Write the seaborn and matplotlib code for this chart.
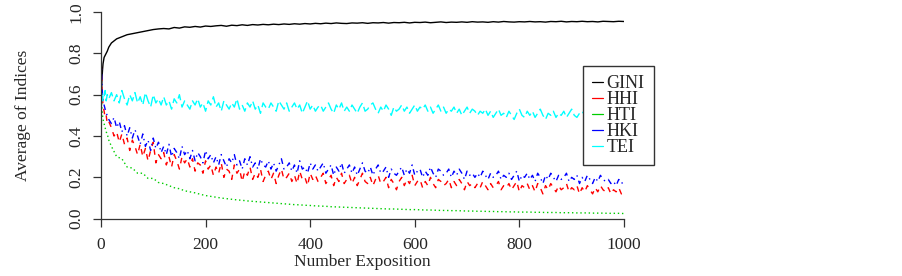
import pandas as pd
import seaborn as sns
import matplotlib
matplotlib.use("Agg")
import matplotlib.pyplot as plt

# x grids: fine steps at the start, then regular steps
x_fine = [0, 1, 2, 3, 4, 6, 8, 10, 12, 15]
x_step5 = x_fine + list(range(20, 1001, 5))
x_step10 = x_fine + list(range(20, 1001, 10))

gini = [0.46, 0.60, 0.68, 0.72, 0.75, 0.78, 0.79, 0.80, 0.81, 0.83,
        0.85, 0.87, 0.88, 0.89, 0.895, 0.90, 0.905, 0.91, 0.915, 0.918,
        0.92, 0.918, 0.925, 0.922, 0.928, 0.926, 0.93, 0.927, 0.932, 0.93,
        0.933, 0.935, 0.931, 0.936, 0.934, 0.938, 0.935, 0.939, 0.937, 0.94,
        0.938, 0.941, 0.939, 0.942, 0.94, 0.943, 0.941, 0.944, 0.942, 0.945,
        0.943, 0.946, 0.944, 0.947, 0.945, 0.944, 0.947, 0.946, 0.948, 0.945,
        0.948, 0.947, 0.949, 0.946, 0.949, 0.948, 0.95, 0.947, 0.95, 0.949,
        0.951, 0.948, 0.95, 0.952, 0.949, 0.951, 0.95, 0.952, 0.95, 0.953,
        0.951, 0.952, 0.95, 0.953, 0.951, 0.954, 0.952, 0.951, 0.953, 0.952,
        0.954, 0.952, 0.953, 0.951, 0.954, 0.953, 0.955, 0.952, 0.954, 0.953,
        0.955, 0.953, 0.954, 0.952, 0.955, 0.954, 0.953, 0.955, 0.954]

hti = [0.64, 0.58, 0.53, 0.50, 0.48, 0.46, 0.44, 0.42, 0.41, 0.38,
       0.35, 0.30, 0.29, 0.25, 0.245, 0.22, 0.22, 0.195, 0.195, 0.175,
       0.17, 0.16, 0.15, 0.145, 0.135, 0.13, 0.125, 0.118, 0.112, 0.108,
       0.104, 0.10, 0.097, 0.094, 0.091, 0.089, 0.086, 0.084, 0.082, 0.08,
       0.078, 0.076, 0.074, 0.072, 0.07, 0.068, 0.067, 0.065, 0.064, 0.062,
       0.061, 0.06, 0.058, 0.057, 0.056, 0.055, 0.054, 0.053, 0.052, 0.051,
       0.05, 0.049, 0.048, 0.047, 0.047, 0.046, 0.045, 0.044, 0.044, 0.043,
       0.042, 0.042, 0.041, 0.04, 0.04, 0.039, 0.039, 0.038, 0.037, 0.037,
       0.036, 0.036, 0.035, 0.035, 0.034, 0.034, 0.033, 0.033, 0.032, 0.032,
       0.032, 0.031, 0.031, 0.03, 0.03, 0.03, 0.029, 0.029, 0.029, 0.028,
       0.028, 0.028, 0.027, 0.027, 0.027, 0.026, 0.026, 0.026, 0.025]

hhi = [0.80, 0.71, 0.63, 0.58, 0.55, 0.52, 0.49, 0.50, 0.46, 0.47,
       0.44, 0.40, 0.42, 0.37, 0.41, 0.36, 0.39, 0.33, 0.38, 0.35,
       0.31, 0.36, 0.30, 0.34, 0.28, 0.33, 0.37, 0.27, 0.31, 0.29,
       0.32, 0.26, 0.30, 0.25, 0.31, 0.28, 0.24, 0.30, 0.27, 0.29,
       0.25, 0.29, 0.23, 0.27, 0.26, 0.22, 0.28, 0.24, 0.26, 0.21,
       0.25, 0.22, 0.27, 0.20, 0.24, 0.23, 0.19, 0.26, 0.22, 0.24,
       0.18, 0.23, 0.21, 0.25, 0.19, 0.22, 0.20, 0.24, 0.18, 0.21,
       0.23, 0.19, 0.22, 0.17, 0.21, 0.24, 0.19, 0.20, 0.22, 0.18,
       0.21, 0.17, 0.23, 0.19, 0.20, 0.16, 0.22, 0.19, 0.21, 0.18,
       0.20, 0.22, 0.17, 0.19, 0.21, 0.16, 0.20, 0.18, 0.22, 0.17,
       0.19, 0.21, 0.17, 0.20, 0.16, 0.19, 0.22, 0.18, 0.17, 0.20,
       0.16, 0.19, 0.21, 0.17, 0.18, 0.20, 0.15, 0.19, 0.17, 0.14,
       0.18, 0.20, 0.16, 0.19, 0.17, 0.21, 0.16, 0.18, 0.19, 0.15,
       0.18, 0.16, 0.20, 0.17, 0.15, 0.19, 0.18, 0.16, 0.17, 0.19,
       0.15, 0.18, 0.16, 0.19, 0.17, 0.14, 0.18, 0.16, 0.17, 0.15,
       0.17, 0.15, 0.18, 0.16, 0.14, 0.17, 0.15, 0.16, 0.18, 0.14,
       0.16, 0.15, 0.17, 0.14, 0.16, 0.18, 0.13, 0.16, 0.15, 0.17,
       0.14, 0.16, 0.13, 0.17, 0.15, 0.12, 0.16, 0.14, 0.17, 0.15,
       0.13, 0.16, 0.14, 0.15, 0.17, 0.13, 0.15, 0.14, 0.16, 0.12,
       0.15, 0.13, 0.16, 0.14, 0.12, 0.15, 0.13, 0.16, 0.14, 0.13,
       0.15, 0.12, 0.14, 0.13, 0.15, 0.12, 0.13]

hki = [0.80, 0.72, 0.65, 0.60, 0.57, 0.55, 0.53, 0.51, 0.50, 0.48,
       0.46, 0.49, 0.44, 0.47, 0.42, 0.45, 0.40, 0.44, 0.39, 0.43,
       0.40, 0.36, 0.41, 0.35, 0.38, 0.33, 0.39, 0.34, 0.37, 0.32,
       0.35, 0.31, 0.36, 0.30, 0.34, 0.32, 0.29, 0.35, 0.31, 0.33,
       0.29, 0.33, 0.28, 0.32, 0.30, 0.27, 0.33, 0.29, 0.31, 0.27,
       0.30, 0.26, 0.31, 0.28, 0.25, 0.29, 0.27, 0.31, 0.26, 0.28,
       0.24, 0.29, 0.26, 0.30, 0.25, 0.27, 0.24, 0.29, 0.26, 0.25,
       0.28, 0.24, 0.27, 0.23, 0.26, 0.29, 0.24, 0.25, 0.27, 0.23,
       0.26, 0.22, 0.28, 0.24, 0.25, 0.22, 0.27, 0.24, 0.26, 0.23,
       0.25, 0.27, 0.22, 0.24, 0.26, 0.21, 0.25, 0.23, 0.27, 0.22,
       0.24, 0.26, 0.22, 0.25, 0.21, 0.24, 0.27, 0.23, 0.22, 0.25,
       0.21, 0.24, 0.26, 0.22, 0.23, 0.25, 0.20, 0.24, 0.22, 0.21,
       0.23, 0.25, 0.21, 0.24, 0.22, 0.26, 0.21, 0.23, 0.24, 0.20,
       0.23, 0.21, 0.25, 0.22, 0.20, 0.24, 0.23, 0.21, 0.22, 0.24,
       0.20, 0.23, 0.21, 0.24, 0.22, 0.19, 0.23, 0.21, 0.22, 0.20,
       0.22, 0.20, 0.23, 0.21, 0.19, 0.22, 0.20, 0.21, 0.23, 0.19,
       0.21, 0.20, 0.22, 0.19, 0.21, 0.23, 0.18, 0.21, 0.20, 0.22,
       0.19, 0.21, 0.18, 0.22, 0.20, 0.17, 0.21, 0.19, 0.22, 0.20,
       0.18, 0.21, 0.19, 0.20, 0.22, 0.18, 0.20, 0.19, 0.21, 0.17,
       0.20, 0.18, 0.21, 0.19, 0.17, 0.20, 0.18, 0.21, 0.19, 0.18,
       0.19, 0.17, 0.18, 0.16, 0.19, 0.17, 0.18]

tei = [0.60, 0.58, 0.61, 0.57, 0.60, 0.59, 0.62, 0.57, 0.60, 0.58,
       0.61, 0.57, 0.60, 0.56, 0.62, 0.58, 0.55, 0.60, 0.57, 0.61,
       0.56, 0.59, 0.55, 0.61, 0.57, 0.54, 0.60, 0.56, 0.58, 0.55,
       0.59, 0.55, 0.57, 0.53, 0.58, 0.56, 0.60, 0.54, 0.57, 0.55,
       0.53, 0.57, 0.55, 0.58, 0.54, 0.56, 0.52, 0.57, 0.55, 0.59,
       0.54, 0.56, 0.52, 0.57, 0.55, 0.53, 0.56, 0.54, 0.58, 0.53,
       0.55, 0.52, 0.56, 0.54, 0.57, 0.53, 0.55, 0.51, 0.56, 0.54,
       0.53, 0.56, 0.54, 0.52, 0.57, 0.55, 0.53, 0.56, 0.52, 0.54,
       0.56, 0.53, 0.55, 0.51, 0.54, 0.57, 0.53, 0.55, 0.52, 0.54,
       0.55, 0.52, 0.54, 0.56, 0.53, 0.51, 0.55, 0.53, 0.56, 0.52,
       0.54, 0.52, 0.55, 0.53, 0.51, 0.54, 0.56, 0.52, 0.53, 0.55,
       0.56, 0.53, 0.51, 0.54, 0.52, 0.55, 0.53, 0.50, 0.54, 0.52,
       0.53, 0.55, 0.52, 0.54, 0.51, 0.53, 0.55, 0.52, 0.54, 0.53,
       0.55, 0.52, 0.54, 0.51, 0.53, 0.55, 0.52, 0.54, 0.51, 0.53,
       0.52, 0.54, 0.51, 0.53, 0.50, 0.52, 0.54, 0.51, 0.53, 0.52,
       0.50, 0.52, 0.51, 0.53, 0.50, 0.52, 0.49, 0.51, 0.53, 0.50,
       0.51, 0.49, 0.52, 0.50, 0.48, 0.51, 0.53, 0.50, 0.49, 0.52,
       0.50, 0.52, 0.49, 0.51, 0.53, 0.50, 0.48, 0.51, 0.50, 0.52,
       0.49, 0.51, 0.50, 0.52, 0.49, 0.51, 0.53, 0.50, 0.49, 0.51,
       0.52, 0.50, 0.53, 0.51, 0.49, 0.52, 0.50, 0.53, 0.51, 0.50,
       0.52, 0.50, 0.51, 0.53, 0.50, 0.52, 0.51]

series = [
    ("GINI", x_step10, gini, "black", "-"),
    ("HHI", x_step5, hhi, "#FF0000", (0, (4, 4))),
    ("HTI", x_step10, hti, "#00CD00", (0, (1, 2))),
    ("HKI", x_step5, hki, "#0000FF", (0, (1, 3, 4, 3))),
    ("TEI", x_step5, tei, "#00FFFF", (0, (7, 3))),
]

sns.set_style("ticks")
plt.rcParams["font.family"] = ["Liberation Serif", "DejaVu Serif"]

fig = plt.figure(figsize=(9.03, 2.76), dpi=100)
ax = fig.add_axes([0.1118, 0.2076, 0.5792, 0.749])

handles = []
for name, xs, ys, col, ls in series:
    df = pd.DataFrame({"x": xs, "y": ys})
    sns.lineplot(data=df, x="x", y="y", ax=ax, color=col, linestyle=ls,
                 linewidth=1.0, estimator=None, errorbar=None, legend=False)
    handles.append(plt.Line2D([], [], color=col, linewidth=0.9, label=name))

ax.set_xlim(0, 1000)
ax.set_ylim(0, 1.0)
ax.set_xticks([0, 200, 400, 600, 800, 1000])
ax.set_yticks([0.0, 0.2, 0.4, 0.6, 0.8, 1.0])
ax.set_yticklabels(["0.0", "0.2", "0.4", "0.6", "0.8", "1.0"], rotation=90, va="center")
ax.tick_params(labelsize=12.5, length=6, width=0.9, color="#333333")
ax.tick_params(axis="x", pad=7)
ax.tick_params(axis="y", pad=6)
ax.set_xlabel("Number Exposition", fontsize=12.5, labelpad=1)
ax.set_ylabel("Average of Indices", fontsize=12.5, labelpad=27)
sns.despine(ax=ax)
for sp in ["left", "bottom"]:
    ax.spines[sp].set_linewidth(0.9)
    ax.spines[sp].set_color("#333333")

leg = ax.legend(handles=handles, loc="upper left", bbox_to_anchor=(0.922, 0.739),
                fontsize=13, frameon=True, fancybox=False, handlelength=0.6,
                handletextpad=0.2, labelspacing=-0.05, borderpad=0.5,
                borderaxespad=0)
leg.get_frame().set_edgecolor("#333333")
leg.get_frame().set_linewidth(1.0)
leg.get_frame().set_facecolor("white")
leg.get_frame().set_alpha(1)

fig.savefig("out.png", dpi=100)
